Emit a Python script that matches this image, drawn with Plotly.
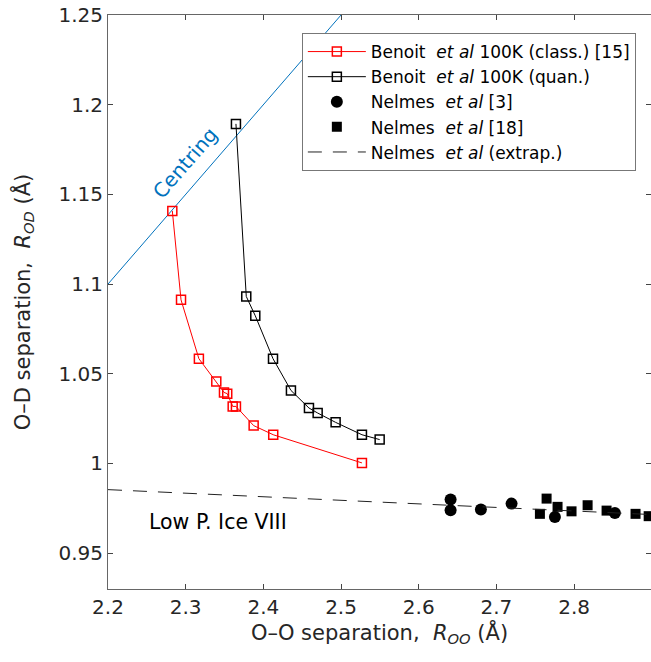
import plotly.graph_objects as go

# Benoit et al 100K (classical)
cls_x = [2.2828, 2.294, 2.317, 2.3394, 2.3493, 2.3535, 2.3605, 2.3647, 2.3875, 2.4127, 2.5269]
cls_y = [1.1408, 1.0912, 1.0584, 1.0457, 1.0396, 1.0389, 1.0318, 1.0318, 1.0211, 1.0160, 1.0003]

# Benoit et al 100K (quantum)
qua_x = [2.3647, 2.378, 2.3896, 2.4124, 2.4355, 2.4587, 2.4699, 2.493, 2.5269, 2.5497]
qua_y = [1.1893, 1.0931, 1.0823, 1.0584, 1.0407, 1.0309, 1.0281, 1.0229, 1.0160, 1.0133]

# Nelmes et al [3] (circles)
n3_x = [2.641, 2.641, 2.680, 2.7195, 2.7753, 2.8525]
n3_y = [0.9799, 0.9739, 0.9743, 0.9776, 0.9702, 0.9724]

# Nelmes et al [18] (squares)
n18_x = [2.7646, 2.756, 2.7787, 2.7967, 2.8174, 2.8418, 2.8791, 2.896]
n18_y = [0.9804, 0.9719, 0.9758, 0.9733, 0.9767, 0.9737, 0.9719, 0.9706]

# Nelmes et al extrapolation
ext_x = [2.2, 2.9]
ext_y = [0.9854, 0.9715]

# Centring line R_OD = R_OO / 2
cen_x = [2.2, 2.5]
cen_y = [1.1, 1.25]

x_ticks = [2.2, 2.3, 2.4, 2.5, 2.6, 2.7, 2.8]
y_ticks = [0.95, 1.0, 1.05, 1.1, 1.15, 1.2, 1.25]
y_ticklabels = ["0.95", "1", "1.05", "1.1", "1.15", "1.2", "1.25"]

FONT = "DejaVu Sans"
BLUE = "#0072BD"
TXT = "#262626"

fig = go.Figure()

fig.add_trace(go.Scatter(x=cen_x, y=cen_y, mode="lines",
                         line=dict(color=BLUE, width=1), showlegend=False,
                         hoverinfo="skip"))

fig.add_trace(go.Scatter(x=cls_x, y=cls_y, mode="lines+markers",
                         name="Benoit  <i>et al</i> 100K (class.) [15]",
                         line=dict(color="#FF0000", width=1),
                         marker=dict(symbol="square-open", size=9, color="#FF0000",
                                     line=dict(width=1.5, color="#FF0000"))))

fig.add_trace(go.Scatter(x=qua_x, y=qua_y, mode="lines+markers",
                         name="Benoit  <i>et al</i> 100K (quan.)",
                         line=dict(color="#000000", width=1),
                         marker=dict(symbol="square-open", size=9, color="#000000",
                                     line=dict(width=1.5, color="#000000"))))

fig.add_trace(go.Scatter(x=n3_x, y=n3_y, mode="markers",
                         name="Nelmes  <i>et al</i> [3]",
                         marker=dict(symbol="circle", size=12, color="#000000")))

fig.add_trace(go.Scatter(x=n18_x, y=n18_y, mode="markers",
                         name="Nelmes  <i>et al</i> [18]",
                         marker=dict(symbol="square", size=10, color="#000000")))

fig.add_trace(go.Scatter(x=ext_x, y=ext_y, mode="lines",
                         name="Nelmes  <i>et al</i> (extrap.)",
                         line=dict(color="#222222", width=1, dash="14px,11px")))

fig.add_annotation(x=2.299, y=1.1676, text="Centring", showarrow=False,
                   textangle=-49, font=dict(family=FONT, size=20, color=BLUE))
fig.add_annotation(x=2.3416, y=0.9676, text="Low P. Ice VIII", showarrow=False,
                   font=dict(family=FONT, size=20.5, color="#000000"))

axis_common = dict(showgrid=False, zeroline=False, showline=True, linecolor="#666666",
                   linewidth=1, ticks="inside", ticklen=5, tickcolor="#444444",
                   mirror="ticks", ticklabeloverflow="allow",
                   tickfont=dict(family=FONT, size=20, color=TXT))

fig.update_layout(
    width=651, height=662,
    margin=dict(l=108, r=0, t=15, b=73),
    plot_bgcolor="white", paper_bgcolor="white",
    font=dict(family=FONT, color="#000000"),
    xaxis=dict(range=[2.2, 2.899], tickvals=x_ticks,
               ticktext=[f"{v:.1f}" for v in x_ticks],
               title=dict(text="O–O separation,  <i>R</i><sub><i>OO</i></sub> (Å)",
                          font=dict(family=FONT, size=21, color=TXT), standoff=4),
               **axis_common),
    yaxis=dict(range=[0.93, 1.25], tickvals=y_ticks, ticktext=y_ticklabels,
               title=dict(text="O–D separation,  <i>R</i><sub><i>OD</i></sub> (Å)",
                          font=dict(family=FONT, size=21, color=TXT), standoff=22),
               **axis_common),
    legend=dict(x=0.357, y=0.9686, xanchor="left", yanchor="top",
                bgcolor="white", bordercolor="#777777", borderwidth=1,
                font=dict(family=FONT, size=17, color="#000000"),
                tracegroupgap=0, itemwidth=58),
    showlegend=True,
)

fig.write_html("out.html")
